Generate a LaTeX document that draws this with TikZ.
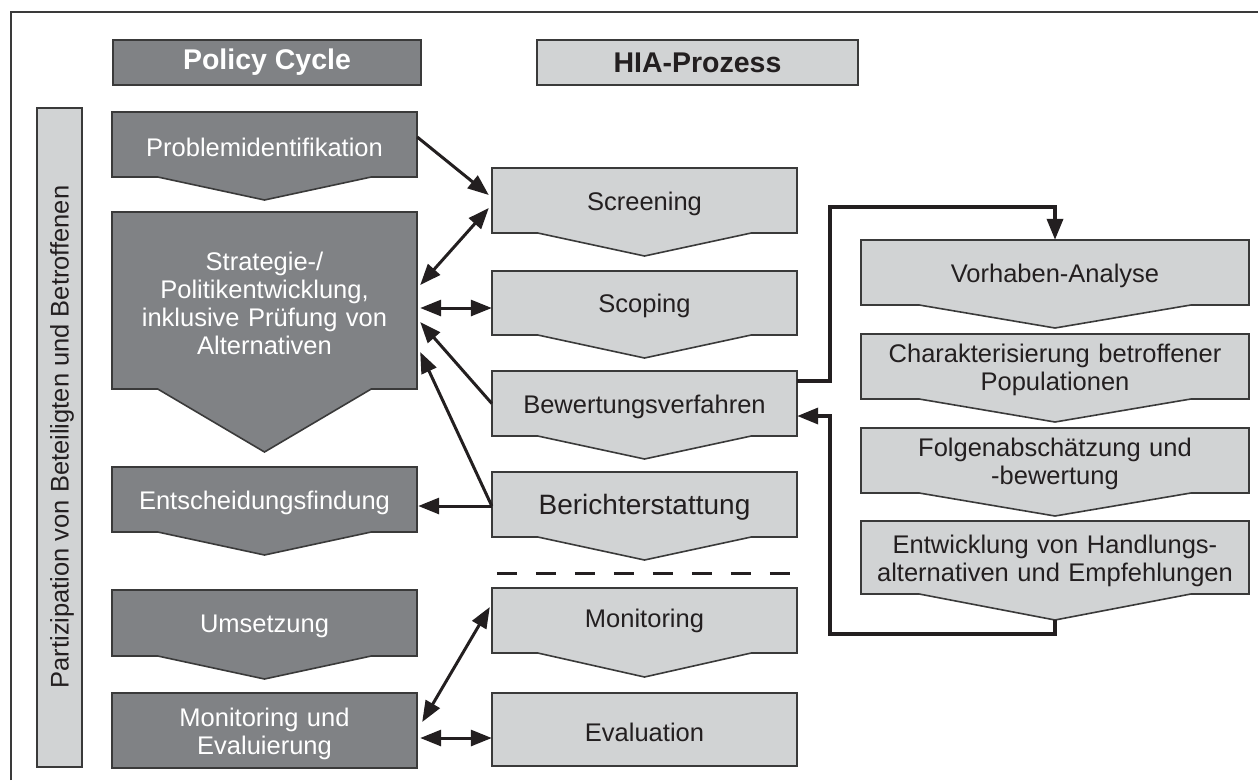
\documentclass[tikz,border=0pt]{standalone}
\usepackage{fontspec}
\setmainfont{Liberation Sans}
\usetikzlibrary{arrows.meta,calc}
\definecolor{darkbox}{HTML}{808285}
\definecolor{lightbox}{HTML}{D1D3D4}
\definecolor{ink}{HTML}{231F20}
\definecolor{edgecol}{HTML}{3A3A3A}
\newcommand\chevbox[9]{%
  \pgfmathsetmacro\cbw{#5-#3}%
  \pgfmathsetmacro\cbh{#6-#4}%
  \pgfmathsetmacro\cbtw{#5-#3-16}%
  \pgfmathsetmacro\cbcx{(#3+#5)/2}%
  \pgfmathsetmacro\cbcy{(#4+#6)/2}%
  \pgfmathsetmacro\cbn{0.15*(#5-#3)}%
  \filldraw[#2] (#3,#4) -- (#5,#4) -- (#5,#6) -- ({#5-\cbn},#6) -- (\cbcx,#7) -- ({#3+\cbn},#6) -- (#3,#6) -- cycle;
  \node[inner sep=0pt, minimum width=\cbw pt, minimum height=\cbh pt] (#1) at (\cbcx,\cbcy) {};
  \node[boxtext, text width=\cbtw pt, yshift=-3pt, #9] (#1text) at (#1.center) {#8};
  \coordinate (#1tip) at (\cbcx,#7);
}
\begin{document}
\begin{tikzpicture}[x=1pt,y=-1pt,
  boxtext/.style={inner sep=0pt, align=center, font=\fontsize{25.5}{28}\selectfont},
  darkfill/.style={fill=darkbox, draw=edgecol, line width=1.6pt},
  lightfill/.style={fill=lightbox, draw=edgecol, line width=1.6pt},
  whitetext/.style={text=white},
  inktext/.style={text=ink},
  hdr/.style={draw=edgecol, line width=1.6pt, inner sep=0pt, font=\fontsize{28.5}{31}\selectfont\bfseries},
  arr/.style={line width=3pt, draw=ink, -{Triangle[length=21pt,width=16pt]}},
  darr/.style={line width=3pt, draw=ink, {Triangle[length=21pt,width=16pt]}-{Triangle[length=21pt,width=16pt]}},
  loopline/.style={line width=3.6pt, draw=ink, -{Triangle[length=21pt,width=16pt]}}
]
\useasboundingbox (0,0) rectangle (1258,780);
% frame
\draw[line width=1.2pt, draw=edgecol] (11,780) -- (11,12) -- (1258,12);

% headers
\node[hdr, fill=darkbox, text=white, minimum width=308pt, minimum height=45pt] (pc) at (267,62.5) {Policy Cycle};
\node[hdr, fill=lightbox, text=ink, minimum width=321pt, minimum height=45pt] (hia) at (697.5,62.5) {HIA-Prozess};

% participation bar
\node[lightfill, minimum width=45pt, minimum height=659pt, inner sep=0pt] (bar) at (59.5,437.5) {};
\node[boxtext, rotate=90, text=ink] (bartext) at (62,437) {Partizipation von Beteiligten und Betroffenen};

% policy cycle column
\chevbox{prob}{darkfill}{112}{112}{417}{177}{200}{Problemidentifikation}{whitetext}
\chevbox{strat}{darkfill}{112}{212}{417}{389}{452}{Strategie-/\\Politikentwicklung,\\inklusive Prüfung von\\Alternativen}{whitetext}
\chevbox{ents}{darkfill}{112}{467}{417}{532}{555}{Entscheidungsfindung}{whitetext}
\chevbox{ums}{darkfill}{112}{590}{417}{656}{679}{Umsetzung}{whitetext}
\chevbox{monev}{darkfill}{112}{693}{417}{768}{768}{Monitoring und\\Evaluierung}{whitetext}

% HIA column
\chevbox{scr}{lightfill}{492}{168}{797}{233}{256}{Screening}{inktext}
\chevbox{scop}{lightfill}{492}{271}{797}{335}{358}{Scoping}{inktext}
\chevbox{bew}{lightfill}{492}{371}{797}{436}{459}{Bewertungsverfahren}{inktext}
\chevbox{ber}{lightfill}{492}{472}{797}{537}{560}{Berichterstattung}{inktext, font=\fontsize{28}{31}\selectfont}
\chevbox{mon}{lightfill}{492}{588}{797}{653}{677}{Monitoring}{inktext, yshift=3pt}
\chevbox{eval}{lightfill}{492}{693}{797}{766}{766}{Evaluation}{inktext}

% right column
\chevbox{vor}{lightfill}{861}{240}{1249}{305}{328}{Vorhaben-Analyse}{inktext}
\chevbox{char}{lightfill}{861}{334}{1249}{399}{422}{Charakterisierung betroffener\\Populationen}{inktext}
\chevbox{folg}{lightfill}{861}{428}{1249}{493}{516}{Folgenabschätzung und\\-bewertung}{inktext}
\chevbox{entw}{lightfill}{861}{521}{1249}{594}{620}{Entwicklung von Handlungs-\\alternativen und Empfehlungen}{inktext}

% dashed separator
\draw[line width=3pt, draw=ink, dash pattern=on 20pt off 19pt] ([xshift=5pt,yshift=-36pt]ber.south west) -- ([yshift=-36pt]ber.south east);

% connectors
\draw[arr] ([yshift=7.5pt]prob.east) -- ([xshift=-3pt,yshift=5.5pt]scr.west);
\draw[darr] ([xshift=-3pt,yshift=-7.5pt]scr.west) -- ([xshift=3pt,yshift=15.5pt]strat.east);
\draw[darr] ([xshift=3pt,yshift=-7.5pt]strat.east) -- ([yshift=-5pt]scop.west);
\draw[arr] (bew.west) -- ([xshift=3pt,yshift=-21.5pt]strat.east);
\draw[arr] ([yshift=-1.5pt]ber.west) -- ([xshift=3pt,yshift=-51.5pt]strat.east);
\draw[arr] ([yshift=-1.5pt]ber.west) -- ([xshift=1pt,yshift=-6.5pt]ents.east);
\draw[darr] ([xshift=-2pt,yshift=13.5pt]mon.west) -- ([xshift=5pt,yshift=8.5pt]monev.east);
\draw[darr] ([xshift=3pt,yshift=-7.5pt]monev.east) -- ([yshift=-8.5pt]eval.west);

% feedback loop
\draw[loopline] ([yshift=22.5pt]bew.east) -- ++(33,0) |- ([yshift=33pt]vor.north) -- (vor.north);
\draw[loopline] (entwtip) -- ++(0,14) -| ([xshift=33pt,yshift=-12.5pt]bew.east) -- ([yshift=-12.5pt]bew.east);
\end{tikzpicture}
\end{document}
